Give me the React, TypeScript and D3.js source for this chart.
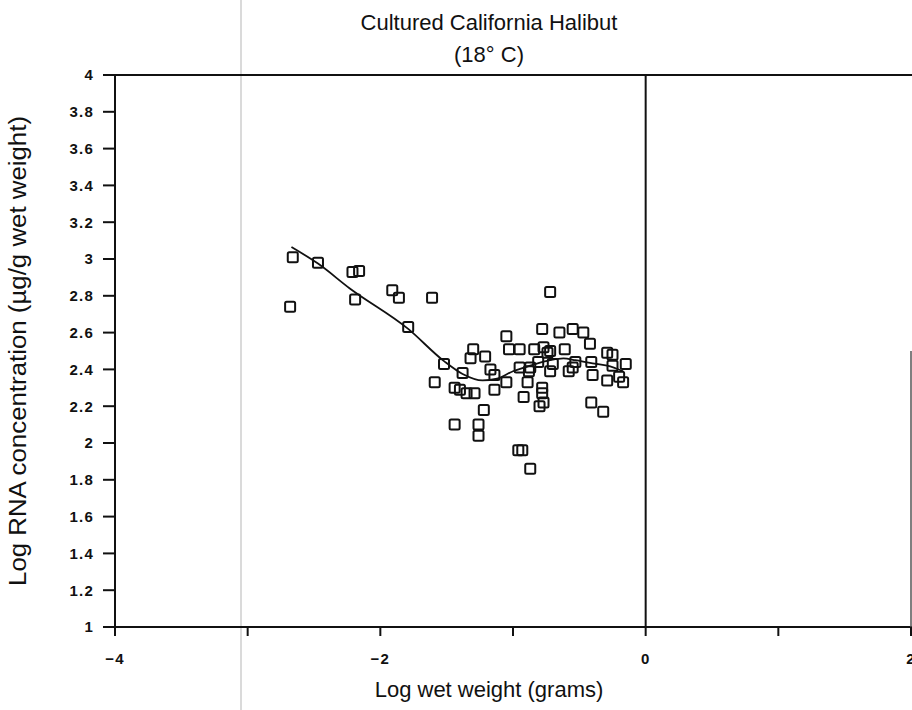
import React from "react";
import * as d3 from "d3";

const title1 = "Cultured California Halibut";
const title2 = "(18° C)";
const xLabel = "Log wet weight (grams)";
const yLabel = "Log RNA concentration (µg/g wet weight)";

const xTicks = [-4, -3, -2, -1, 0, 1, 2];
const xTickLabels = ["−4", "", "−2", "", "0", "", "2"];
const yTicks = [1, 1.2, 1.4, 1.6, 1.8, 2, 2.2, 2.4, 2.6, 2.8, 3, 3.2, 3.4, 3.6, 3.8, 4];
const yTickLabels = ["1", "1.2", "1.4", "1.6", "1.8", "2", "2.2", "2.4", "2.6", "2.8", "3", "3.2", "3.4", "3.6", "3.8", "4"];

const pointX = [
  -2.66, -2.68, -2.47, -2.21, -2.16, -2.19, -1.91, -1.86, -1.61, -1.79,
  -1.52, -1.59, -1.44, -1.44, -1.40, -1.38, -1.35, -1.29, -1.30, -1.32,
  -1.21, -1.17, -1.14, -1.14, -1.22, -1.26, -1.26,
  -0.72, -0.78, -0.65, -0.55, -0.47, -0.42, -1.05, -1.03, -0.95, -0.84,
  -0.77, -0.72, -0.61, -0.29, -0.25, -0.95, -0.87, -0.81, -0.74, -0.70,
  -0.53, -0.41, -0.15, -0.25, -0.72, -0.58, -0.55, -0.88, -0.89, -0.40,
  -0.29, -0.20, -0.17, -1.05, -0.92, -0.78, -0.78, -0.77, -0.80, -0.41,
  -0.32, -0.96, -0.93, -0.87,
];
const pointY = [
  3.01, 2.74, 2.98, 2.93, 2.935, 2.78, 2.83, 2.79, 2.79, 2.63,
  2.43, 2.33, 2.10, 2.30, 2.29, 2.38, 2.27, 2.27, 2.51, 2.46,
  2.47, 2.40, 2.37, 2.29, 2.18, 2.10, 2.04,
  2.82, 2.62, 2.60, 2.62, 2.60, 2.54, 2.58, 2.51, 2.51, 2.51,
  2.52, 2.50, 2.51, 2.49, 2.48, 2.41, 2.41, 2.44, 2.49, 2.43,
  2.44, 2.44, 2.43, 2.42, 2.39, 2.39, 2.41, 2.39, 2.33, 2.37,
  2.34, 2.36, 2.33, 2.33, 2.25, 2.30, 2.27, 2.22, 2.20, 2.22,
  2.17, 1.96, 1.96, 1.86,
];

const fitX = [-2.67, -2.47, -2.23, -1.79, -1.52, -1.38, -1.23, -1.12, -1.0, -0.87, -0.72, -0.62, -0.53, -0.42, -0.29, -0.17];
const fitY = [3.065, 2.975, 2.84, 2.62, 2.445, 2.375, 2.34, 2.35, 2.39, 2.42, 2.45, 2.46, 2.45, 2.435, 2.42, 2.39];

export default function App() {
  const W = 912;
  const H = 710;
  const left = 115;
  const right = 911;
  const top = 75;
  const bottom = 627;
  const x = d3.scaleLinear().domain([-4, 2]).range([left, right]);
  const y = d3.scaleLinear().domain([1, 4]).range([bottom, top]);
  const line = d3
    .line<number>()
    .x((_, i) => x(fitX[i]))
    .y((d) => y(d))
    .curve(d3.curveMonotoneX);
  const sq = 10;
  const font = "'Liberation Sans', Arial, Helvetica, sans-serif";
  const tickFont = { fontSize: "15px", fontWeight: 700, letterSpacing: "1.2px" } as React.CSSProperties;
  return (
    <svg
      width={W}
      height={H}
      style={{ position: "absolute", left: 0, top: 0, background: "#fff" }}
      fontFamily={font}
    >
      <rect x={0} y={0} width={W} height={H} fill="#fff" />
      {/* faint scan line */}
      <line x1={241} x2={241} y1={0} y2={H} stroke="#b5b5b5" strokeWidth={1} />
      {/* title */}
      <text x={489} y={30} textAnchor="middle" style={{ fontSize: "22px" }} fill="#111">
        {title1}
      </text>
      <text x={489} y={62} textAnchor="middle" style={{ fontSize: "22px" }} fill="#111">
        {title2}
      </text>
      {/* frame */}
      <line x1={left} x2={W} y1={top} y2={top} stroke="#111" strokeWidth={2} />
      <line x1={left} x2={left} y1={top} y2={bottom} stroke="#111" strokeWidth={2} />
      <line x1={left} x2={W} y1={bottom} y2={bottom} stroke="#111" strokeWidth={2} />
      <line x1={x(0)} x2={x(0)} y1={top} y2={bottom} stroke="#111" strokeWidth={2} />
      <line x1={x(2)} x2={x(2)} y1={y(2.5)} y2={bottom} stroke="#555" strokeWidth={1.5} />
      {/* y ticks */}
      {yTicks.map((t, i) => (
        <g key={"y" + i}>
          <line x1={left - 12} x2={left} y1={y(t)} y2={y(t)} stroke="#111" strokeWidth={2} />
          <text x={94} y={y(t)} dy="0.36em" textAnchor="end" style={tickFont} fill="#111">
            {yTickLabels[i]}
          </text>
        </g>
      ))}
      {/* x ticks */}
      {xTicks.map((t, i) => (
        <g key={"x" + i}>
          <line x1={x(t)} x2={x(t)} y1={bottom} y2={bottom + 9} stroke="#111" strokeWidth={2} />
          <text x={x(t)} y={664} textAnchor="middle" style={tickFont} fill="#111">
            {xTickLabels[i]}
          </text>
        </g>
      ))}
      {/* axis labels */}
      <text x={489} y={697} textAnchor="middle" style={{ fontSize: "22px" }} fill="#111">
        {xLabel}
      </text>
      <text
        transform={`translate(26, 351) rotate(-90)`}
        textAnchor="middle"
        style={{ fontSize: "23px" }}
        textLength={470}
        lengthAdjust="spacingAndGlyphs"
        fill="#111"
      >
        {yLabel}
      </text>
      {/* fit line */}
      <path d={line(fitY) || ""} fill="none" stroke="#111" strokeWidth={1.8} />
      {/* points */}
      {pointX.map((px, i) => (
        <rect
          key={"p" + i}
          x={x(px) - sq / 2}
          y={y(pointY[i]) - sq / 2}
          width={sq}
          height={sq}
          rx={1.5}
          fill="none"
          stroke="#111"
          strokeWidth={2}
        />
      ))}
    </svg>
  );
}
